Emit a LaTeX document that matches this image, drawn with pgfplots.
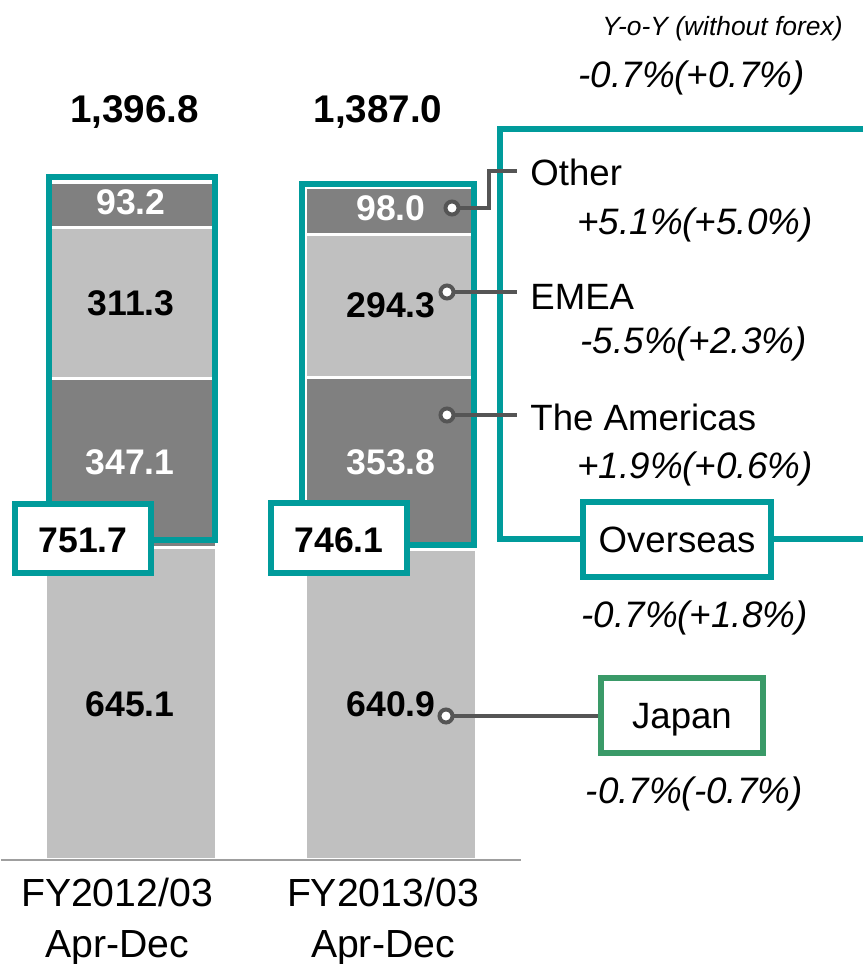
\documentclass[border=0pt]{standalone}
\usepackage{fontspec}
\setmainfont{Liberation Sans}
\usepackage{pgfplots}
\pgfplotsset{compat=1.18}
\definecolor{lgray}{HTML}{C0C0C0}
\definecolor{dgray}{HTML}{808080}
\definecolor{tealc}{HTML}{009B9B}
\definecolor{greenc}{HTML}{3A9A68}
\definecolor{conn}{HTML}{555555}
\newcommand{\lab}{\fontsize{17.8}{20}\bfseries\selectfont}
\newcommand{\tot}{\fontsize{19.3}{22}\bfseries\selectfont}
\newcommand{\txt}{\fontsize{18.3}{22}\selectfont}
\newcommand{\pct}{\fontsize{18.4}{22}\itshape\selectfont}
\begin{document}
\begin{tikzpicture}
\useasboundingbox (0,0) rectangle (431.5pt,-482pt);
\begin{axis}[
  at={(0.5pt,-430pt)}, anchor=south west,
  scale only axis, width=260pt, height=412.25pt,
  xmin=-0.5, xmax=1.5, ymin=0, ymax=1700,
  ybar stacked, bar width=86pt,
  hide y axis, axis x line*=bottom, axis on top,
  x axis line style={draw=gray!75, line width=0.8pt, -},
  xtick={-0.054,0.969},
  xticklabels={{FY2012/03\\Apr-Dec},{FY2013/03\\Apr-Dec}},
  major tick length=0pt,
  xticklabel style={font=\fontsize{19.6}{25.5}\selectfont, align=center, inner sep=0pt, anchor=north, yshift=-9pt},
  clip=false,
]
\addplot[fill=lgray, draw=white, line width=1.6pt] coordinates {(0,645.1) (1,640.9)};
\addplot[fill=dgray, draw=white, line width=1.6pt] coordinates {(0,347.1) (1,353.8)};
\addplot[fill=lgray, draw=white, line width=1.6pt] coordinates {(0,311.3) (1,294.3)};
\addplot[fill=dgray, draw=white, line width=1.6pt] coordinates {(0,93.2) (1,98.0)};
\end{axis}
\begin{scope}[x=0.5pt,y=-0.5pt]
% teal boxes around overseas
\draw[tealc, line width=3pt] (48.5,540) rectangle (214.5,177);
\draw[tealc, line width=3pt] (301.5,545) rectangle (473.5,184);
% segment labels
\node[font=\lab, text=white, anchor=base] at (131,214) {93.2};
\node[font=\lab, anchor=base] at (131,315) {311.3};
\node[font=\lab, text=white, anchor=base] at (130,474) {347.1};
\node[font=\lab, anchor=base] at (130,716) {645.1};
\node[font=\lab, text=white, anchor=base] at (391,220) {98.0};
\node[font=\lab, anchor=base] at (391,317) {294.3};
\node[font=\lab, text=white, anchor=base] at (391,474) {353.8};
\node[font=\lab, anchor=base] at (391,716) {640.9};
% totals
\node[font=\tot, anchor=base] at (134.5,122) {1,396.8};
\node[font=\tot, anchor=base] at (378,122) {1,387.0};
% overseas value boxes
\draw[tealc, line width=3pt, fill=white] (15,504) rectangle (151,573);
\node[font=\lab, anchor=base] at (83,552) {751.7};
\draw[tealc, line width=3pt, fill=white] (271,503) rectangle (407,573);
\node[font=\lab, anchor=base] at (339,552) {746.1};
% big bracket
\draw[tealc, line width=3pt] (863,129) -- (500,129) -- (500,539) -- (583,539);
\draw[tealc, line width=3pt] (771,539) -- (863,539);
\draw[tealc, line width=3pt, fill=white] (583,502) rectangle (771,577);
\node[font=\txt, anchor=base] at (677,552) {Overseas};
% japan box
\draw[conn, line width=1.6pt] (446,716) -- (601,716);
\draw[greenc, line width=3pt, fill=white] (601,678) rectangle (763,753);
\node[font=\txt, anchor=base] at (682,728) {Japan};
% connectors
\draw[conn, line width=1.6pt] (452,208) -- (489,208) -- (489,171) -- (517,171);
\draw[conn, line width=1.6pt] (447,292) -- (517,292);
\draw[conn, line width=1.6pt] (447,415) -- (517,415);
\foreach \p in {(452,208),(447,292),(447,415),(446,716)}
  \draw[conn, line width=2pt, fill=white] \p circle (6.5);
% region labels
\node[font=\txt, anchor=base west, inner sep=0pt] at (530,185) {Other};
\node[font=\txt, anchor=base west, inner sep=0pt] at (530,309) {EMEA};
\node[font=\txt, anchor=base west, inner sep=0pt] at (530,430) {The Americas};
% percentages
\node[font=\fontsize{13.2}{16}\itshape\selectfont, anchor=base east, inner sep=0pt] at (843,35) {Y-o-Y (without forex)};
\node[font=\pct, anchor=base east, inner sep=0pt] at (805,87) {-0.7\%(+0.7\%)};
\node[font=\pct, anchor=base east, inner sep=0pt] at (813,234) {+5.1\%(+5.0\%)};
\node[font=\pct, anchor=base east, inner sep=0pt] at (807,353) {-5.5\%(+2.3\%)};
\node[font=\pct, anchor=base east, inner sep=0pt] at (813,478) {+1.9\%(+0.6\%)};
\node[font=\pct, anchor=base east, inner sep=0pt] at (808,627) {-0.7\%(+1.8\%)};
\node[font=\pct, anchor=base east, inner sep=0pt] at (803,803) {-0.7\%(-0.7\%)};
\end{scope}
\end{tikzpicture}
\end{document}
